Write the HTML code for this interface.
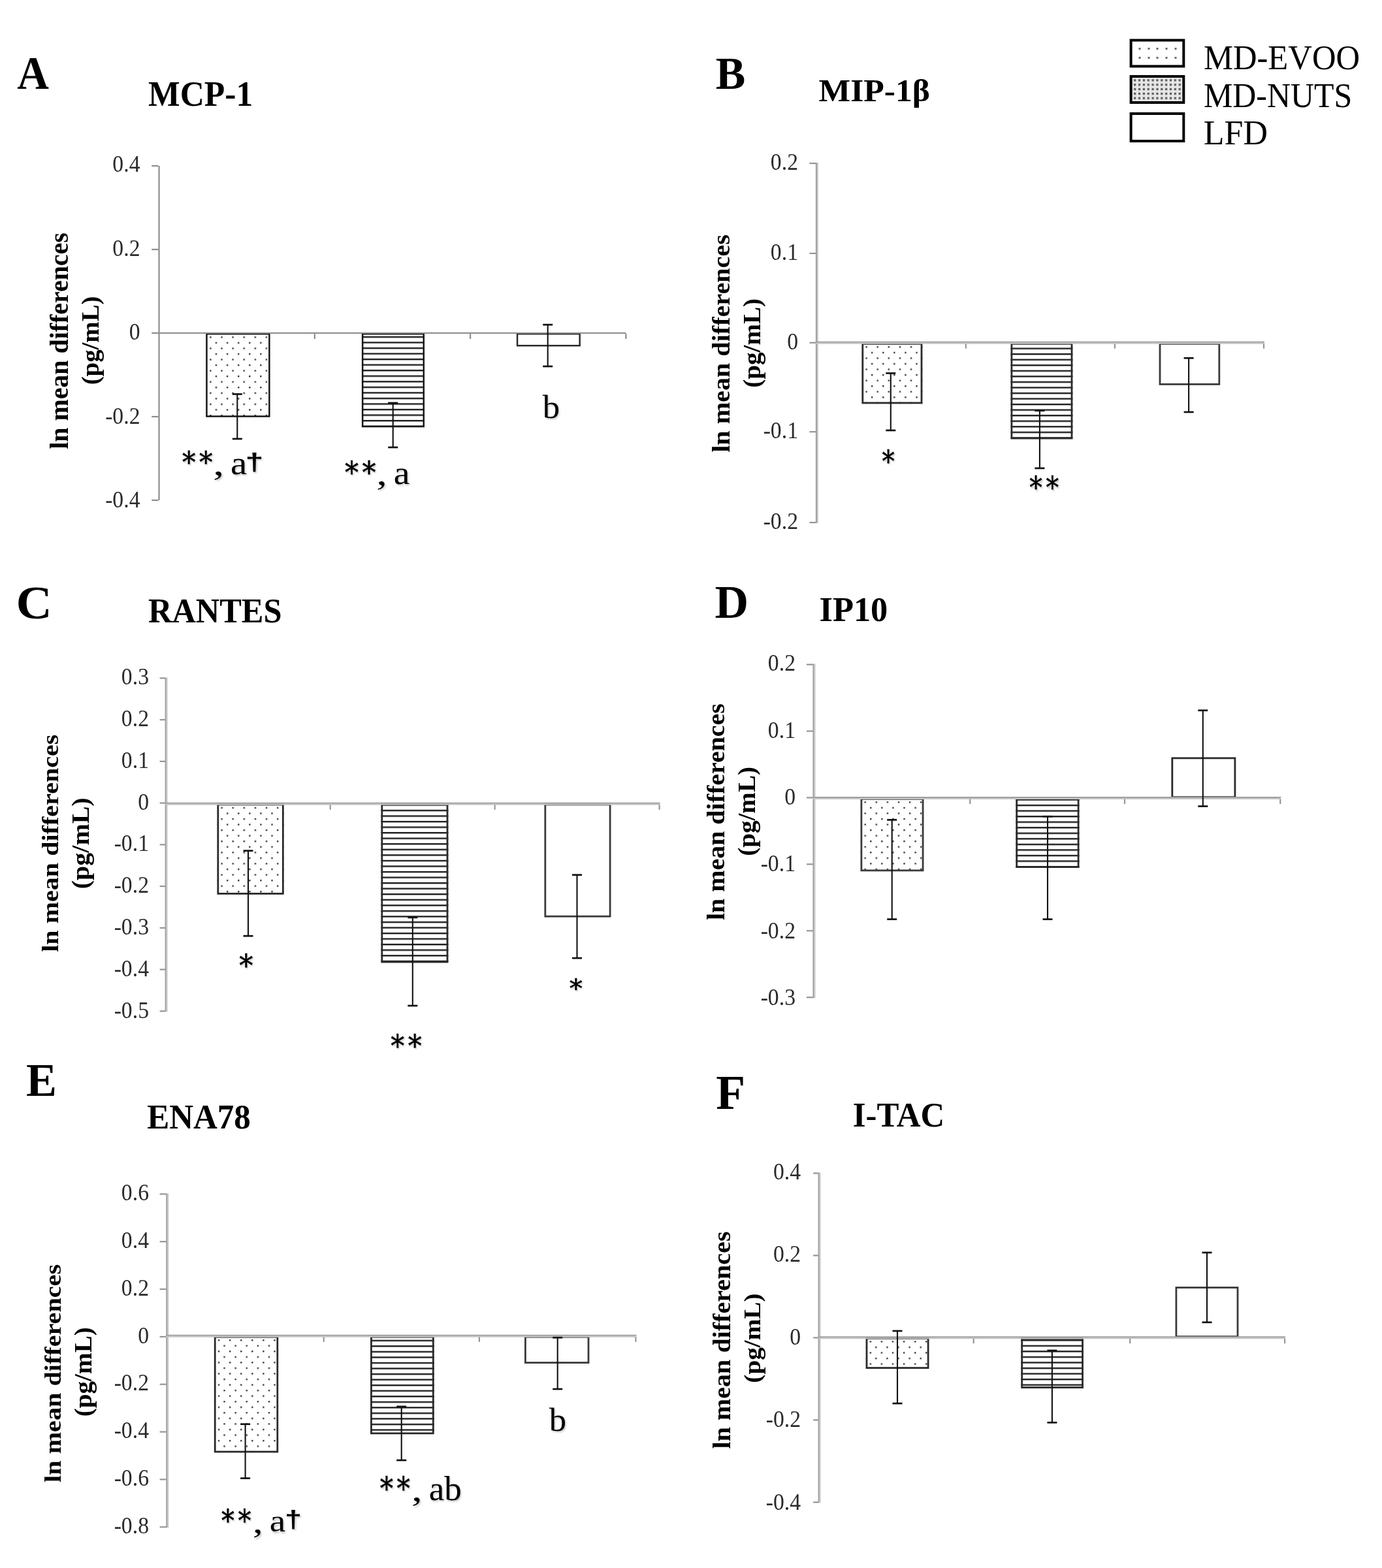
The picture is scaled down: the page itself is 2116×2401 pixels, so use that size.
<!DOCTYPE html>
<html><head><meta charset="utf-8"><title>Figure</title>
<style>html,body{margin:0;padding:0;background:#fff;}svg{display:block;}</style>
</head><body>
<svg xmlns="http://www.w3.org/2000/svg" width="2116" height="2401" viewBox="0 0 2116 2401" font-family='"Liberation Serif", "Times New Roman", serif'>
<defs>
<filter id="shb" x="-20%" y="-20%" width="140%" height="140%"><feGaussianBlur stdDeviation="1.1"/></filter>
<pattern id="lgrid" patternUnits="userSpaceOnUse" x="1736.2" y="121.4" width="6.85" height="6.85"><rect width="6.85" height="6.85" fill="#d8d8d8"/><rect x="4.2" y="0" width="1.2" height="6.85" fill="#f4f4f4"/><rect x="0" y="4.4" width="6.85" height="1.0" fill="#f0f0f0"/><rect x="0" y="0" width="3" height="3" fill="#5a5a5a"/></pattern>
<pattern id="p1" patternUnits="userSpaceOnUse" x="321.20" y="515.20" width="17.1" height="17.1"><rect x="0" y="0" width="2.4" height="2.4" fill="#3a3a3a"/><rect x="8.55" y="8.55" width="2.4" height="2.4" fill="#3a3a3a"/></pattern>
<pattern id="p2" patternUnits="userSpaceOnUse" x="0" y="514.80" width="20" height="8.55"><rect x="0" y="0" width="20" height="2.4" fill="#1e1e1e"/></pattern>
<pattern id="p4" patternUnits="userSpaceOnUse" x="1325.40" y="530.20" width="17.1" height="17.1"><rect x="0" y="0" width="2.4" height="2.4" fill="#3a3a3a"/><rect x="8.55" y="8.55" width="2.4" height="2.4" fill="#3a3a3a"/></pattern>
<pattern id="p5" patternUnits="userSpaceOnUse" x="0" y="532.50" width="20" height="8.55"><rect x="0" y="0" width="20" height="2.4" fill="#1e1e1e"/></pattern>
<pattern id="p7" patternUnits="userSpaceOnUse" x="338.40" y="1235.80" width="17.1" height="17.1"><rect x="0" y="0" width="2.4" height="2.4" fill="#3a3a3a"/><rect x="8.55" y="8.55" width="2.4" height="2.4" fill="#3a3a3a"/></pattern>
<pattern id="p8" patternUnits="userSpaceOnUse" x="0" y="1231.30" width="20" height="8.55"><rect x="0" y="0" width="20" height="2.4" fill="#1e1e1e"/></pattern>
<pattern id="p10" patternUnits="userSpaceOnUse" x="1323.50" y="1227.20" width="17.1" height="17.1"><rect x="0" y="0" width="2.4" height="2.4" fill="#3a3a3a"/><rect x="8.55" y="8.55" width="2.4" height="2.4" fill="#3a3a3a"/></pattern>
<pattern id="p11" patternUnits="userSpaceOnUse" x="0" y="1223.40" width="20" height="8.55"><rect x="0" y="0" width="20" height="2.4" fill="#1e1e1e"/></pattern>
<pattern id="p13" patternUnits="userSpaceOnUse" x="333.80" y="2051.00" width="17.1" height="17.1"><rect x="0" y="0" width="2.4" height="2.4" fill="#3a3a3a"/><rect x="8.55" y="8.55" width="2.4" height="2.4" fill="#3a3a3a"/></pattern>
<pattern id="p14" patternUnits="userSpaceOnUse" x="0" y="2051.60" width="20" height="8.55"><rect x="0" y="0" width="20" height="2.4" fill="#1e1e1e"/></pattern>
<pattern id="p16" patternUnits="userSpaceOnUse" x="1331.60" y="2053.20" width="17.1" height="17.1"><rect x="0" y="0" width="2.4" height="2.4" fill="#3a3a3a"/><rect x="8.55" y="8.55" width="2.4" height="2.4" fill="#3a3a3a"/></pattern>
<pattern id="p17" patternUnits="userSpaceOnUse" x="0" y="2051.10" width="20" height="8.55"><rect x="0" y="0" width="20" height="2.4" fill="#1e1e1e"/></pattern>
</defs>
<rect width="100%" height="100%" fill="#fff"/>
<rect x="1743.5" y="73.1" width="3" height="3" fill="#6a6a6a"/>
<rect x="1757.5" y="73.1" width="3" height="3" fill="#6a6a6a"/>
<rect x="1770.5" y="73.1" width="3" height="3" fill="#6a6a6a"/>
<rect x="1784.5" y="73.1" width="3" height="3" fill="#6a6a6a"/>
<rect x="1798.5" y="73.1" width="3" height="3" fill="#6a6a6a"/>
<rect x="1743.5" y="87.0" width="3" height="3" fill="#6a6a6a"/>
<rect x="1757.5" y="87.0" width="3" height="3" fill="#6a6a6a"/>
<rect x="1770.5" y="87.0" width="3" height="3" fill="#6a6a6a"/>
<rect x="1784.5" y="87.0" width="3" height="3" fill="#6a6a6a"/>
<rect x="1798.5" y="87.0" width="3" height="3" fill="#6a6a6a"/>
<rect x="1731.6" y="61.6" width="80.70000000000005" height="39.9" fill="none" stroke="#000" stroke-width="4"/>
<rect x="1731.6" y="117" width="80.70000000000005" height="40" fill="url(#lgrid)"/>
<rect x="1731.6" y="117.0" width="80.70000000000005" height="40" fill="none" stroke="#000" stroke-width="4"/>
<rect x="1731.6" y="174.0" width="80.70000000000005" height="42" fill="none" stroke="#000" stroke-width="4"/>
<text transform="translate(1842.88,106.21) scale(0.9588,1)" font-size="52.84" font-weight="normal" fill="#000">MD-EVOO</text>
<text transform="translate(1842.90,164.17) scale(0.9404,1)" font-size="53.09" font-weight="normal" fill="#000">MD-NUTS</text>
<text transform="translate(1842.84,221.17) scale(0.9681,1)" font-size="53.69" font-weight="normal" fill="#000">LFD</text>
<text transform="translate(26.33,136.00) scale(0.9461,1)" font-size="71.21" font-weight="bold" fill="#000">A</text>
<text transform="translate(227.10,162.45) scale(0.9357,1)" font-size="55.02" font-weight="bold" fill="#000">MCP-1</text>
<text transform="translate(104.21,687.80) rotate(-90) scale(1.0190,1)" font-size="39.16" font-weight="bold" fill="#000">ln mean differences</text>
<text transform="translate(151.31,589.35) rotate(-90) scale(1.0057,1)" font-size="38.58" font-weight="bold" fill="#000">(pg/mL)</text>
<rect x="315.20" y="510.00" width="98.40" height="128.80" fill="url(#p1)"/>
<rect x="316.45" y="511.25" width="95.90" height="126.30" fill="none" stroke="#161616" stroke-width="2.5"/>
<rect x="553.90" y="510.00" width="96.10" height="144.30" fill="url(#p2)"/>
<rect x="555.15" y="511.25" width="93.60" height="141.80" fill="none" stroke="#161616" stroke-width="2.5"/>
<rect x="792.05" y="511.25" width="95.60" height="18.00" fill="none" stroke="#2a2a2a" stroke-width="2.5"/>
<line x1="243.50" y1="254.00" x2="243.50" y2="766.00" stroke="#8c8c8c" stroke-width="2.2" stroke-linecap="butt"/>
<line x1="232.30" y1="254.00" x2="242.40" y2="254.00" stroke="#8c8c8c" stroke-width="2.2" stroke-linecap="butt"/>
<line x1="232.30" y1="382.00" x2="242.40" y2="382.00" stroke="#8c8c8c" stroke-width="2.2" stroke-linecap="butt"/>
<line x1="232.30" y1="510.00" x2="242.40" y2="510.00" stroke="#8c8c8c" stroke-width="2.2" stroke-linecap="butt"/>
<line x1="232.30" y1="638.00" x2="242.40" y2="638.00" stroke="#8c8c8c" stroke-width="2.2" stroke-linecap="butt"/>
<line x1="232.30" y1="766.00" x2="242.40" y2="766.00" stroke="#8c8c8c" stroke-width="2.2" stroke-linecap="butt"/>
<line x1="242.40" y1="510.00" x2="958.40" y2="510.00" stroke="#8c8c8c" stroke-width="2.2" stroke-linecap="butt"/>
<line x1="481.80" y1="511.10" x2="481.80" y2="519.00" stroke="#8c8c8c" stroke-width="2.2" stroke-linecap="butt"/>
<line x1="720.10" y1="511.10" x2="720.10" y2="519.00" stroke="#8c8c8c" stroke-width="2.2" stroke-linecap="butt"/>
<line x1="958.40" y1="511.10" x2="958.40" y2="519.00" stroke="#8c8c8c" stroke-width="2.2" stroke-linecap="butt"/>
<text transform="translate(214.50,263.00) scale(0.95,1)" text-anchor="end" font-size="35.50" fill="#2a2a2a">0.4</text>
<text transform="translate(214.50,391.60) scale(0.95,1)" text-anchor="end" font-size="35.50" fill="#2a2a2a">0.2</text>
<text transform="translate(214.50,520.20) scale(0.95,1)" text-anchor="end" font-size="35.50" fill="#2a2a2a">0</text>
<text transform="translate(214.50,648.80) scale(0.95,1)" text-anchor="end" font-size="35.50" fill="#2a2a2a">-0.2</text>
<text transform="translate(214.50,777.40) scale(0.95,1)" text-anchor="end" font-size="35.50" fill="#2a2a2a">-0.4</text>
<line x1="363.30" y1="603.50" x2="363.30" y2="672.00" stroke="#111" stroke-width="2.1" stroke-linecap="butt"/>
<line x1="355.80" y1="603.50" x2="370.80" y2="603.50" stroke="#111" stroke-width="2.7" stroke-linecap="butt"/>
<line x1="355.80" y1="672.00" x2="370.80" y2="672.00" stroke="#111" stroke-width="2.7" stroke-linecap="butt"/>
<line x1="601.70" y1="617.00" x2="601.70" y2="685.00" stroke="#111" stroke-width="2.1" stroke-linecap="butt"/>
<line x1="594.20" y1="617.00" x2="609.20" y2="617.00" stroke="#111" stroke-width="2.7" stroke-linecap="butt"/>
<line x1="594.20" y1="685.00" x2="609.20" y2="685.00" stroke="#111" stroke-width="2.7" stroke-linecap="butt"/>
<line x1="838.70" y1="497.20" x2="838.70" y2="561.00" stroke="#111" stroke-width="2.1" stroke-linecap="butt"/>
<line x1="831.20" y1="497.20" x2="846.20" y2="497.20" stroke="#111" stroke-width="2.7" stroke-linecap="butt"/>
<line x1="831.20" y1="561.00" x2="846.20" y2="561.00" stroke="#111" stroke-width="2.7" stroke-linecap="butt"/>
<text transform="translate(1.6,2.2) translate(278.88,724.09) scale(0.9113,1)" font-size="44.84" font-weight="normal" fill="#c8c8c8" filter="url(#shb)" font-family="DejaVu Serif, serif">*</text>
<text transform="translate(278.88,724.09) scale(0.9113,1)" font-size="44.84" font-weight="normal" fill="#000" font-family="DejaVu Serif, serif" stroke="#000" stroke-width="0.5">*</text>
<text transform="translate(1.6,2.2) translate(304.88,724.09) scale(0.9113,1)" font-size="44.84" font-weight="normal" fill="#c8c8c8" filter="url(#shb)" font-family="DejaVu Serif, serif">*</text>
<text transform="translate(304.88,724.09) scale(0.9113,1)" font-size="44.84" font-weight="normal" fill="#000" font-family="DejaVu Serif, serif" stroke="#000" stroke-width="0.5">*</text>
<text transform="translate(1.6,2.2) translate(326.07,726.99) scale(1.3553,1)" font-size="51.65" font-weight="normal" fill="#c8c8c8" filter="url(#shb)">,</text>
<text transform="translate(326.07,726.99) scale(1.3553,1)" font-size="51.65" font-weight="normal" fill="#000">,</text>
<text transform="translate(1.6,2.2) translate(353.01,726.20) scale(1.1298,1)" font-size="50.42" font-weight="normal" fill="#c8c8c8" filter="url(#shb)">a</text>
<text transform="translate(353.01,726.20) scale(1.1298,1)" font-size="50.42" font-weight="normal" fill="#000">a</text>
<text transform="translate(1.6,2.2) translate(375.41,719.98) scale(1.3434,1)" font-size="37.35" font-weight="bold" fill="#c8c8c8" filter="url(#shb)" font-family="Liberation Sans, Arial, sans-serif">†</text>
<text transform="translate(375.41,719.98) scale(1.3434,1)" font-size="37.35" font-weight="bold" fill="#000" font-family="Liberation Sans, Arial, sans-serif">†</text>
<text transform="translate(1.6,2.2) translate(527.97,739.76) scale(0.8958,1)" font-size="46.81" font-weight="normal" fill="#c8c8c8" filter="url(#shb)" font-family="DejaVu Serif, serif">*</text>
<text transform="translate(527.97,739.76) scale(0.8958,1)" font-size="46.81" font-weight="normal" fill="#000" font-family="DejaVu Serif, serif" stroke="#000" stroke-width="0.5">*</text>
<text transform="translate(1.6,2.2) translate(554.47,739.76) scale(0.8958,1)" font-size="46.81" font-weight="normal" fill="#c8c8c8" filter="url(#shb)" font-family="DejaVu Serif, serif">*</text>
<text transform="translate(554.47,739.76) scale(0.8958,1)" font-size="46.81" font-weight="normal" fill="#000" font-family="DejaVu Serif, serif" stroke="#000" stroke-width="0.5">*</text>
<text transform="translate(1.6,2.2) translate(576.20,742.29) scale(1.2907,1)" font-size="51.65" font-weight="normal" fill="#c8c8c8" filter="url(#shb)">,</text>
<text transform="translate(576.20,742.29) scale(1.2907,1)" font-size="51.65" font-weight="normal" fill="#000">,</text>
<text transform="translate(1.6,2.2) translate(602.75,740.80) scale(1.1139,1)" font-size="50.00" font-weight="normal" fill="#c8c8c8" filter="url(#shb)">a</text>
<text transform="translate(602.75,740.80) scale(1.1139,1)" font-size="50.00" font-weight="normal" fill="#000">a</text>
<text transform="translate(1.6,2.2) translate(830.70,640.09) scale(1.0347,1)" font-size="50.78" font-weight="normal" fill="#c8c8c8" filter="url(#shb)">b</text>
<text transform="translate(830.70,640.09) scale(1.0347,1)" font-size="50.78" font-weight="normal" fill="#000">b</text>
<text transform="translate(1095.81,135.82) scale(0.9654,1)" font-size="70.72" font-weight="bold" fill="#000">B</text>
<text transform="translate(1253.50,154.96) scale(1.0409,1)" font-size="49.59" font-weight="bold" fill="#000">MIP-1β</text>
<text transform="translate(1117.22,692.80) rotate(-90) scale(1.0631,1)" font-size="37.76" font-weight="bold" fill="#000">ln mean differences</text>
<text transform="translate(1164.24,593.76) rotate(-90) scale(1.0169,1)" font-size="38.47" font-weight="bold" fill="#000">(pg/mL)</text>
<rect x="1319.40" y="525.00" width="93.00" height="93.40" fill="url(#p4)"/>
<rect x="1320.80" y="526.40" width="90.20" height="90.60" fill="none" stroke="#2a2a2a" stroke-width="2.8"/>
<rect x="1547.50" y="525.00" width="94.90" height="147.50" fill="url(#p5)"/>
<rect x="1548.90" y="526.40" width="92.10" height="144.70" fill="none" stroke="#2a2a2a" stroke-width="2.8"/>
<rect x="1776.00" y="526.40" width="90.80" height="62.00" fill="none" stroke="#3a3a3a" stroke-width="2.8"/>
<line x1="1251.90" y1="249.10" x2="1251.90" y2="801.10" stroke="#cacaca" stroke-width="2.0" stroke-linecap="butt"/>
<line x1="1249.90" y1="249.10" x2="1249.90" y2="801.10" stroke="#9c9c9c" stroke-width="2.0" stroke-linecap="butt"/>
<line x1="1239.40" y1="250.10" x2="1249.20" y2="250.10" stroke="#959595" stroke-width="2.2" stroke-linecap="butt"/>
<line x1="1239.40" y1="388.00" x2="1249.20" y2="388.00" stroke="#959595" stroke-width="2.2" stroke-linecap="butt"/>
<line x1="1239.40" y1="524.80" x2="1249.20" y2="524.80" stroke="#959595" stroke-width="2.2" stroke-linecap="butt"/>
<line x1="1239.40" y1="661.20" x2="1249.20" y2="661.20" stroke="#959595" stroke-width="2.2" stroke-linecap="butt"/>
<line x1="1239.40" y1="800.10" x2="1249.20" y2="800.10" stroke="#959595" stroke-width="2.2" stroke-linecap="butt"/>
<line x1="1248.90" y1="525.70" x2="1936.00" y2="525.70" stroke="#c6c6c6" stroke-width="2.0" stroke-linecap="butt"/>
<line x1="1248.90" y1="523.70" x2="1936.00" y2="523.70" stroke="#a0a0a0" stroke-width="2.0" stroke-linecap="butt"/>
<line x1="1478.80" y1="526.40" x2="1478.80" y2="533.70" stroke="#959595" stroke-width="2.2" stroke-linecap="butt"/>
<line x1="1706.90" y1="526.40" x2="1706.90" y2="533.70" stroke="#959595" stroke-width="2.2" stroke-linecap="butt"/>
<line x1="1935.00" y1="526.40" x2="1935.00" y2="533.70" stroke="#959595" stroke-width="2.2" stroke-linecap="butt"/>
<text transform="translate(1222.00,259.70) scale(0.95,1)" text-anchor="end" font-size="35.50" fill="#2a2a2a">0.2</text>
<text transform="translate(1222.00,397.70) scale(0.95,1)" text-anchor="end" font-size="35.50" fill="#2a2a2a">0.1</text>
<text transform="translate(1222.00,534.60) scale(0.95,1)" text-anchor="end" font-size="35.50" fill="#2a2a2a">0</text>
<text transform="translate(1222.00,671.10) scale(0.95,1)" text-anchor="end" font-size="35.50" fill="#2a2a2a">-0.1</text>
<text transform="translate(1222.00,810.10) scale(0.95,1)" text-anchor="end" font-size="35.50" fill="#2a2a2a">-0.2</text>
<line x1="1363.80" y1="571.50" x2="1363.80" y2="659.00" stroke="#111" stroke-width="2.1" stroke-linecap="butt"/>
<line x1="1356.30" y1="571.50" x2="1371.30" y2="571.50" stroke="#111" stroke-width="2.7" stroke-linecap="butt"/>
<line x1="1356.30" y1="659.00" x2="1371.30" y2="659.00" stroke="#111" stroke-width="2.7" stroke-linecap="butt"/>
<line x1="1591.90" y1="628.80" x2="1591.90" y2="717.00" stroke="#111" stroke-width="2.1" stroke-linecap="butt"/>
<line x1="1584.40" y1="628.80" x2="1599.40" y2="628.80" stroke="#111" stroke-width="2.7" stroke-linecap="butt"/>
<line x1="1584.40" y1="717.00" x2="1599.40" y2="717.00" stroke="#111" stroke-width="2.7" stroke-linecap="butt"/>
<line x1="1820.10" y1="548.30" x2="1820.10" y2="631.00" stroke="#111" stroke-width="2.1" stroke-linecap="butt"/>
<line x1="1812.60" y1="548.30" x2="1827.60" y2="548.30" stroke="#111" stroke-width="2.7" stroke-linecap="butt"/>
<line x1="1812.60" y1="631.00" x2="1827.60" y2="631.00" stroke="#111" stroke-width="2.7" stroke-linecap="butt"/>
<text transform="translate(1.6,2.2) translate(1350.43,722.55) scale(0.8064,1)" font-size="47.47" font-weight="normal" fill="#c8c8c8" filter="url(#shb)" font-family="DejaVu Serif, serif">*</text>
<text transform="translate(1350.43,722.55) scale(0.8064,1)" font-size="47.47" font-weight="normal" fill="#000" font-family="DejaVu Serif, serif" stroke="#000" stroke-width="0.5">*</text>
<text transform="translate(1.6,2.2) translate(1576.32,763.46) scale(0.8361,1)" font-size="46.81" font-weight="normal" fill="#c8c8c8" filter="url(#shb)" font-family="DejaVu Serif, serif">*</text>
<text transform="translate(1576.32,763.46) scale(0.8361,1)" font-size="46.81" font-weight="normal" fill="#000" font-family="DejaVu Serif, serif" stroke="#000" stroke-width="0.5">*</text>
<text transform="translate(1.6,2.2) translate(1601.51,763.46) scale(0.8407,1)" font-size="46.81" font-weight="normal" fill="#c8c8c8" filter="url(#shb)" font-family="DejaVu Serif, serif">*</text>
<text transform="translate(1601.51,763.46) scale(0.8407,1)" font-size="46.81" font-weight="normal" fill="#000" font-family="DejaVu Serif, serif" stroke="#000" stroke-width="0.5">*</text>
<text transform="translate(24.38,946.77) scale(1.0538,1)" font-size="72.57" font-weight="bold" fill="#000">C</text>
<text transform="translate(227.02,953.16) scale(0.9365,1)" font-size="53.83" font-weight="bold" fill="#000">RANTES</text>
<text transform="translate(88.65,1457.80) rotate(-90) scale(1.1461,1)" font-size="34.97" font-weight="bold" fill="#000">ln mean differences</text>
<text transform="translate(135.83,1361.20) rotate(-90) scale(1.0757,1)" font-size="37.16" font-weight="bold" fill="#000">(pg/mL)</text>
<rect x="332.40" y="1230.60" width="102.30" height="139.20" fill="url(#p7)"/>
<rect x="333.80" y="1232.00" width="99.50" height="136.40" fill="none" stroke="#2a2a2a" stroke-width="2.8"/>
<rect x="583.40" y="1230.60" width="103.00" height="243.80" fill="url(#p8)"/>
<rect x="584.80" y="1232.00" width="100.20" height="241.00" fill="none" stroke="#2a2a2a" stroke-width="2.8"/>
<rect x="834.80" y="1232.00" width="99.30" height="171.20" fill="none" stroke="#3a3a3a" stroke-width="2.8"/>
<line x1="255.60" y1="1037.40" x2="255.60" y2="1549.32" stroke="#cacaca" stroke-width="2.0" stroke-linecap="butt"/>
<line x1="253.60" y1="1037.40" x2="253.60" y2="1549.32" stroke="#9c9c9c" stroke-width="2.0" stroke-linecap="butt"/>
<line x1="244.60" y1="1038.40" x2="252.90" y2="1038.40" stroke="#959595" stroke-width="2.2" stroke-linecap="butt"/>
<line x1="244.60" y1="1102.14" x2="252.90" y2="1102.14" stroke="#959595" stroke-width="2.2" stroke-linecap="butt"/>
<line x1="244.60" y1="1165.88" x2="252.90" y2="1165.88" stroke="#959595" stroke-width="2.2" stroke-linecap="butt"/>
<line x1="244.60" y1="1229.62" x2="252.90" y2="1229.62" stroke="#959595" stroke-width="2.2" stroke-linecap="butt"/>
<line x1="244.60" y1="1293.36" x2="252.90" y2="1293.36" stroke="#959595" stroke-width="2.2" stroke-linecap="butt"/>
<line x1="244.60" y1="1357.10" x2="252.90" y2="1357.10" stroke="#959595" stroke-width="2.2" stroke-linecap="butt"/>
<line x1="244.60" y1="1420.84" x2="252.90" y2="1420.84" stroke="#959595" stroke-width="2.2" stroke-linecap="butt"/>
<line x1="244.60" y1="1484.58" x2="252.90" y2="1484.58" stroke="#959595" stroke-width="2.2" stroke-linecap="butt"/>
<line x1="244.60" y1="1548.32" x2="252.90" y2="1548.32" stroke="#959595" stroke-width="2.2" stroke-linecap="butt"/>
<line x1="252.60" y1="1231.80" x2="1010.60" y2="1231.80" stroke="#c6c6c6" stroke-width="2.0" stroke-linecap="butt"/>
<line x1="252.60" y1="1229.80" x2="1010.60" y2="1229.80" stroke="#a0a0a0" stroke-width="2.0" stroke-linecap="butt"/>
<line x1="505.70" y1="1232.50" x2="505.70" y2="1239.80" stroke="#959595" stroke-width="2.2" stroke-linecap="butt"/>
<line x1="757.60" y1="1232.50" x2="757.60" y2="1239.80" stroke="#959595" stroke-width="2.2" stroke-linecap="butt"/>
<line x1="1009.60" y1="1232.50" x2="1009.60" y2="1239.80" stroke="#959595" stroke-width="2.2" stroke-linecap="butt"/>
<text transform="translate(228.00,1048.45) scale(0.95,1)" text-anchor="end" font-size="35.50" fill="#2a2a2a">0.3</text>
<text transform="translate(228.00,1112.21) scale(0.95,1)" text-anchor="end" font-size="35.50" fill="#2a2a2a">0.2</text>
<text transform="translate(228.00,1175.97) scale(0.95,1)" text-anchor="end" font-size="35.50" fill="#2a2a2a">0.1</text>
<text transform="translate(228.00,1239.73) scale(0.95,1)" text-anchor="end" font-size="35.50" fill="#2a2a2a">0</text>
<text transform="translate(228.00,1303.49) scale(0.95,1)" text-anchor="end" font-size="35.50" fill="#2a2a2a">-0.1</text>
<text transform="translate(228.00,1367.25) scale(0.95,1)" text-anchor="end" font-size="35.50" fill="#2a2a2a">-0.2</text>
<text transform="translate(228.00,1431.01) scale(0.95,1)" text-anchor="end" font-size="35.50" fill="#2a2a2a">-0.3</text>
<text transform="translate(228.00,1494.77) scale(0.95,1)" text-anchor="end" font-size="35.50" fill="#2a2a2a">-0.4</text>
<text transform="translate(228.00,1558.52) scale(0.95,1)" text-anchor="end" font-size="35.50" fill="#2a2a2a">-0.5</text>
<line x1="380.00" y1="1302.70" x2="380.00" y2="1433.20" stroke="#111" stroke-width="2.1" stroke-linecap="butt"/>
<line x1="372.50" y1="1302.70" x2="387.50" y2="1302.70" stroke="#111" stroke-width="2.7" stroke-linecap="butt"/>
<line x1="372.50" y1="1433.20" x2="387.50" y2="1433.20" stroke="#111" stroke-width="2.7" stroke-linecap="butt"/>
<line x1="631.80" y1="1404.90" x2="631.80" y2="1540.00" stroke="#111" stroke-width="2.1" stroke-linecap="butt"/>
<line x1="624.30" y1="1404.90" x2="639.30" y2="1404.90" stroke="#111" stroke-width="2.7" stroke-linecap="butt"/>
<line x1="624.30" y1="1540.00" x2="639.30" y2="1540.00" stroke="#111" stroke-width="2.7" stroke-linecap="butt"/>
<line x1="883.50" y1="1339.70" x2="883.50" y2="1467.10" stroke="#111" stroke-width="2.1" stroke-linecap="butt"/>
<line x1="876.00" y1="1339.70" x2="891.00" y2="1339.70" stroke="#111" stroke-width="2.7" stroke-linecap="butt"/>
<line x1="876.00" y1="1467.10" x2="891.00" y2="1467.10" stroke="#111" stroke-width="2.7" stroke-linecap="butt"/>
<text transform="translate(1.6,2.2) translate(366.26,1494.94) scale(0.9220,1)" font-size="45.71" font-weight="normal" fill="#c8c8c8" filter="url(#shb)" font-family="DejaVu Serif, serif">*</text>
<text transform="translate(366.26,1494.94) scale(0.9220,1)" font-size="45.71" font-weight="normal" fill="#000" font-family="DejaVu Serif, serif" stroke="#000" stroke-width="0.5">*</text>
<text transform="translate(1.6,2.2) translate(598.27,1617.52) scale(0.8870,1)" font-size="47.03" font-weight="normal" fill="#c8c8c8" filter="url(#shb)" font-family="DejaVu Serif, serif">*</text>
<text transform="translate(598.27,1617.52) scale(0.8870,1)" font-size="47.03" font-weight="normal" fill="#000" font-family="DejaVu Serif, serif" stroke="#000" stroke-width="0.5">*</text>
<text transform="translate(1.6,2.2) translate(624.67,1617.52) scale(0.8870,1)" font-size="47.03" font-weight="normal" fill="#c8c8c8" filter="url(#shb)" font-family="DejaVu Serif, serif">*</text>
<text transform="translate(624.67,1617.52) scale(0.8870,1)" font-size="47.03" font-weight="normal" fill="#000" font-family="DejaVu Serif, serif" stroke="#000" stroke-width="0.5">*</text>
<text transform="translate(1.6,2.2) translate(872.01,1527.18) scale(1.0117,1)" font-size="38.90" font-weight="normal" fill="#c8c8c8" filter="url(#shb)" font-family="DejaVu Serif, serif">*</text>
<text transform="translate(872.01,1527.18) scale(1.0117,1)" font-size="38.90" font-weight="normal" fill="#000" font-family="DejaVu Serif, serif" stroke="#000" stroke-width="0.5">*</text>
<text transform="translate(1094.45,946.02) scale(0.9890,1)" font-size="72.24" font-weight="bold" fill="#000">D</text>
<text transform="translate(1254.50,950.66) scale(0.9777,1)" font-size="53.63" font-weight="bold" fill="#000">IP10</text>
<text transform="translate(1109.23,1409.00) rotate(-90) scale(1.0814,1)" font-size="36.92" font-weight="bold" fill="#000">ln mean differences</text>
<text transform="translate(1155.53,1310.76) rotate(-90) scale(1.0390,1)" font-size="37.60" font-weight="bold" fill="#000">(pg/mL)</text>
<rect x="1317.50" y="1222.00" width="97.00" height="112.30" fill="url(#p10)"/>
<rect x="1318.90" y="1223.40" width="94.20" height="109.50" fill="none" stroke="#3a3a3a" stroke-width="2.8"/>
<rect x="1555.30" y="1222.00" width="97.20" height="107.00" fill="url(#p11)"/>
<rect x="1556.70" y="1223.40" width="94.40" height="104.20" fill="none" stroke="#2a2a2a" stroke-width="2.8"/>
<rect x="1794.80" y="1160.90" width="96.10" height="59.70" fill="none" stroke="#2a2a2a" stroke-width="2.8"/>
<line x1="1247.50" y1="1016.60" x2="1247.50" y2="1528.20" stroke="#cacaca" stroke-width="2.0" stroke-linecap="butt"/>
<line x1="1245.50" y1="1016.60" x2="1245.50" y2="1528.20" stroke="#9c9c9c" stroke-width="2.0" stroke-linecap="butt"/>
<line x1="1235.00" y1="1017.60" x2="1244.80" y2="1017.60" stroke="#959595" stroke-width="2.2" stroke-linecap="butt"/>
<line x1="1235.00" y1="1119.52" x2="1244.80" y2="1119.52" stroke="#959595" stroke-width="2.2" stroke-linecap="butt"/>
<line x1="1235.00" y1="1221.44" x2="1244.80" y2="1221.44" stroke="#959595" stroke-width="2.2" stroke-linecap="butt"/>
<line x1="1235.00" y1="1323.36" x2="1244.80" y2="1323.36" stroke="#959595" stroke-width="2.2" stroke-linecap="butt"/>
<line x1="1235.00" y1="1425.28" x2="1244.80" y2="1425.28" stroke="#959595" stroke-width="2.2" stroke-linecap="butt"/>
<line x1="1235.00" y1="1527.20" x2="1244.80" y2="1527.20" stroke="#959595" stroke-width="2.2" stroke-linecap="butt"/>
<line x1="1244.50" y1="1223.00" x2="1961.30" y2="1223.00" stroke="#c6c6c6" stroke-width="2.0" stroke-linecap="butt"/>
<line x1="1244.50" y1="1221.00" x2="1961.30" y2="1221.00" stroke="#a0a0a0" stroke-width="2.0" stroke-linecap="butt"/>
<line x1="1485.30" y1="1223.70" x2="1485.30" y2="1231.00" stroke="#959595" stroke-width="2.2" stroke-linecap="butt"/>
<line x1="1722.00" y1="1223.70" x2="1722.00" y2="1231.00" stroke="#959595" stroke-width="2.2" stroke-linecap="butt"/>
<line x1="1960.30" y1="1223.70" x2="1960.30" y2="1231.00" stroke="#959595" stroke-width="2.2" stroke-linecap="butt"/>
<text transform="translate(1218.00,1027.20) scale(0.95,1)" text-anchor="end" font-size="35.50" fill="#2a2a2a">0.2</text>
<text transform="translate(1218.00,1129.56) scale(0.95,1)" text-anchor="end" font-size="35.50" fill="#2a2a2a">0.1</text>
<text transform="translate(1218.00,1231.92) scale(0.95,1)" text-anchor="end" font-size="35.50" fill="#2a2a2a">0</text>
<text transform="translate(1218.00,1334.28) scale(0.95,1)" text-anchor="end" font-size="35.50" fill="#2a2a2a">-0.1</text>
<text transform="translate(1218.00,1436.64) scale(0.95,1)" text-anchor="end" font-size="35.50" fill="#2a2a2a">-0.2</text>
<text transform="translate(1218.00,1539.00) scale(0.95,1)" text-anchor="end" font-size="35.50" fill="#2a2a2a">-0.3</text>
<line x1="1365.70" y1="1255.40" x2="1365.70" y2="1407.60" stroke="#111" stroke-width="2.1" stroke-linecap="butt"/>
<line x1="1358.20" y1="1255.40" x2="1373.20" y2="1255.40" stroke="#111" stroke-width="2.7" stroke-linecap="butt"/>
<line x1="1358.20" y1="1407.60" x2="1373.20" y2="1407.60" stroke="#111" stroke-width="2.7" stroke-linecap="butt"/>
<line x1="1604.00" y1="1250.20" x2="1604.00" y2="1407.60" stroke="#111" stroke-width="2.1" stroke-linecap="butt"/>
<line x1="1596.50" y1="1250.20" x2="1611.50" y2="1250.20" stroke="#111" stroke-width="2.7" stroke-linecap="butt"/>
<line x1="1596.50" y1="1407.60" x2="1611.50" y2="1407.60" stroke="#111" stroke-width="2.7" stroke-linecap="butt"/>
<line x1="1841.80" y1="1087.80" x2="1841.80" y2="1234.60" stroke="#111" stroke-width="2.1" stroke-linecap="butt"/>
<line x1="1834.30" y1="1087.80" x2="1849.30" y2="1087.80" stroke="#111" stroke-width="2.7" stroke-linecap="butt"/>
<line x1="1834.30" y1="1234.60" x2="1849.30" y2="1234.60" stroke="#111" stroke-width="2.7" stroke-linecap="butt"/>
<text transform="translate(39.97,1678.00) scale(0.9693,1)" font-size="72.52" font-weight="bold" fill="#000">E</text>
<text transform="translate(225.21,1727.67) scale(0.9644,1)" font-size="52.89" font-weight="bold" fill="#000">ENA78</text>
<text transform="translate(93.44,2269.90) rotate(-90) scale(1.1223,1)" font-size="35.80" font-weight="bold" fill="#000">ln mean differences</text>
<text transform="translate(140.07,2169.36) rotate(-90) scale(1.0614,1)" font-size="36.94" font-weight="bold" fill="#000">(pg/mL)</text>
<rect x="327.80" y="2045.80" width="98.40" height="178.60" fill="url(#p13)"/>
<rect x="329.20" y="2047.20" width="95.60" height="175.80" fill="none" stroke="#2a2a2a" stroke-width="2.8"/>
<rect x="567.00" y="2045.80" width="97.70" height="150.40" fill="url(#p14)"/>
<rect x="568.40" y="2047.20" width="94.90" height="147.60" fill="none" stroke="#2a2a2a" stroke-width="2.8"/>
<rect x="804.40" y="2047.20" width="96.60" height="39.40" fill="none" stroke="#3a3a3a" stroke-width="2.8"/>
<line x1="257.30" y1="1827.40" x2="257.30" y2="2339.21" stroke="#cacaca" stroke-width="2.0" stroke-linecap="butt"/>
<line x1="255.30" y1="1827.40" x2="255.30" y2="2339.21" stroke="#9c9c9c" stroke-width="2.0" stroke-linecap="butt"/>
<line x1="244.60" y1="1828.40" x2="254.60" y2="1828.40" stroke="#959595" stroke-width="2.2" stroke-linecap="butt"/>
<line x1="244.60" y1="1901.23" x2="254.60" y2="1901.23" stroke="#959595" stroke-width="2.2" stroke-linecap="butt"/>
<line x1="244.60" y1="1974.06" x2="254.60" y2="1974.06" stroke="#959595" stroke-width="2.2" stroke-linecap="butt"/>
<line x1="244.60" y1="2046.89" x2="254.60" y2="2046.89" stroke="#959595" stroke-width="2.2" stroke-linecap="butt"/>
<line x1="244.60" y1="2119.72" x2="254.60" y2="2119.72" stroke="#959595" stroke-width="2.2" stroke-linecap="butt"/>
<line x1="244.60" y1="2192.55" x2="254.60" y2="2192.55" stroke="#959595" stroke-width="2.2" stroke-linecap="butt"/>
<line x1="244.60" y1="2265.38" x2="254.60" y2="2265.38" stroke="#959595" stroke-width="2.2" stroke-linecap="butt"/>
<line x1="244.60" y1="2338.21" x2="254.60" y2="2338.21" stroke="#959595" stroke-width="2.2" stroke-linecap="butt"/>
<line x1="254.30" y1="2046.80" x2="974.40" y2="2046.80" stroke="#c6c6c6" stroke-width="2.0" stroke-linecap="butt"/>
<line x1="254.30" y1="2044.80" x2="974.40" y2="2044.80" stroke="#a0a0a0" stroke-width="2.0" stroke-linecap="butt"/>
<line x1="495.70" y1="2047.50" x2="495.70" y2="2054.80" stroke="#959595" stroke-width="2.2" stroke-linecap="butt"/>
<line x1="733.90" y1="2047.50" x2="733.90" y2="2054.80" stroke="#959595" stroke-width="2.2" stroke-linecap="butt"/>
<line x1="973.40" y1="2047.50" x2="973.40" y2="2054.80" stroke="#959595" stroke-width="2.2" stroke-linecap="butt"/>
<text transform="translate(228.00,1838.30) scale(0.95,1)" text-anchor="end" font-size="35.50" fill="#2a2a2a">0.6</text>
<text transform="translate(228.00,1911.09) scale(0.95,1)" text-anchor="end" font-size="35.50" fill="#2a2a2a">0.4</text>
<text transform="translate(228.00,1983.88) scale(0.95,1)" text-anchor="end" font-size="35.50" fill="#2a2a2a">0.2</text>
<text transform="translate(228.00,2056.67) scale(0.95,1)" text-anchor="end" font-size="35.50" fill="#2a2a2a">0</text>
<text transform="translate(228.00,2129.45) scale(0.95,1)" text-anchor="end" font-size="35.50" fill="#2a2a2a">-0.2</text>
<text transform="translate(228.00,2202.24) scale(0.95,1)" text-anchor="end" font-size="35.50" fill="#2a2a2a">-0.4</text>
<text transform="translate(228.00,2275.03) scale(0.95,1)" text-anchor="end" font-size="35.50" fill="#2a2a2a">-0.6</text>
<text transform="translate(228.00,2347.81) scale(0.95,1)" text-anchor="end" font-size="35.50" fill="#2a2a2a">-0.8</text>
<line x1="375.60" y1="2180.70" x2="375.60" y2="2263.60" stroke="#111" stroke-width="2.1" stroke-linecap="butt"/>
<line x1="368.10" y1="2180.70" x2="383.10" y2="2180.70" stroke="#111" stroke-width="2.7" stroke-linecap="butt"/>
<line x1="368.10" y1="2263.60" x2="383.10" y2="2263.60" stroke="#111" stroke-width="2.7" stroke-linecap="butt"/>
<line x1="614.70" y1="2153.80" x2="614.70" y2="2236.00" stroke="#111" stroke-width="2.1" stroke-linecap="butt"/>
<line x1="607.20" y1="2153.80" x2="622.20" y2="2153.80" stroke="#111" stroke-width="2.7" stroke-linecap="butt"/>
<line x1="607.20" y1="2236.00" x2="622.20" y2="2236.00" stroke="#111" stroke-width="2.7" stroke-linecap="butt"/>
<line x1="853.70" y1="2048.20" x2="853.70" y2="2127.00" stroke="#111" stroke-width="2.1" stroke-linecap="butt"/>
<line x1="846.20" y1="2048.20" x2="861.20" y2="2048.20" stroke="#111" stroke-width="2.7" stroke-linecap="butt"/>
<line x1="846.20" y1="2127.00" x2="861.20" y2="2127.00" stroke="#111" stroke-width="2.7" stroke-linecap="butt"/>
<text transform="translate(1.6,2.2) translate(339.01,2345.02) scale(0.8413,1)" font-size="47.03" font-weight="normal" fill="#c8c8c8" filter="url(#shb)" font-family="DejaVu Serif, serif">*</text>
<text transform="translate(339.01,2345.02) scale(0.8413,1)" font-size="47.03" font-weight="normal" fill="#000" font-family="DejaVu Serif, serif" stroke="#000" stroke-width="0.5">*</text>
<text transform="translate(1.6,2.2) translate(364.40,2345.02) scale(0.8459,1)" font-size="47.03" font-weight="normal" fill="#c8c8c8" filter="url(#shb)" font-family="DejaVu Serif, serif">*</text>
<text transform="translate(364.40,2345.02) scale(0.8459,1)" font-size="47.03" font-weight="normal" fill="#000" font-family="DejaVu Serif, serif" stroke="#000" stroke-width="0.5">*</text>
<text transform="translate(1.6,2.2) translate(386.68,2347.34) scale(1.3429,1)" font-size="48.16" font-weight="normal" fill="#c8c8c8" filter="url(#shb)">,</text>
<text transform="translate(386.68,2347.34) scale(1.3429,1)" font-size="48.16" font-weight="normal" fill="#000">,</text>
<text transform="translate(1.6,2.2) translate(412.77,2345.41) scale(1.1178,1)" font-size="49.38" font-weight="normal" fill="#c8c8c8" filter="url(#shb)">a</text>
<text transform="translate(412.77,2345.41) scale(1.1178,1)" font-size="49.38" font-weight="normal" fill="#000">a</text>
<text transform="translate(1.6,2.2) translate(436.04,2339.08) scale(1.2547,1)" font-size="37.35" font-weight="bold" fill="#c8c8c8" filter="url(#shb)" font-family="Liberation Sans, Arial, sans-serif">†</text>
<text transform="translate(436.04,2339.08) scale(1.2547,1)" font-size="37.35" font-weight="bold" fill="#000" font-family="Liberation Sans, Arial, sans-serif">†</text>
<text transform="translate(1.6,2.2) translate(581.69,2295.67) scale(0.8438,1)" font-size="47.91" font-weight="normal" fill="#c8c8c8" filter="url(#shb)" font-family="DejaVu Serif, serif">*</text>
<text transform="translate(581.69,2295.67) scale(0.8438,1)" font-size="47.91" font-weight="normal" fill="#000" font-family="DejaVu Serif, serif" stroke="#000" stroke-width="0.5">*</text>
<text transform="translate(1.6,2.2) translate(607.49,2295.67) scale(0.8483,1)" font-size="47.91" font-weight="normal" fill="#c8c8c8" filter="url(#shb)" font-family="DejaVu Serif, serif">*</text>
<text transform="translate(607.49,2295.67) scale(0.8483,1)" font-size="47.91" font-weight="normal" fill="#000" font-family="DejaVu Serif, serif" stroke="#000" stroke-width="0.5">*</text>
<text transform="translate(1.6,2.2) translate(629.98,2297.65) scale(1.3135,1)" font-size="51.26" font-weight="normal" fill="#c8c8c8" filter="url(#shb)">,</text>
<text transform="translate(629.98,2297.65) scale(1.3135,1)" font-size="51.26" font-weight="normal" fill="#000">,</text>
<text transform="translate(1.6,2.2) translate(656.75,2296.88) scale(1.0117,1)" font-size="52.34" font-weight="normal" fill="#c8c8c8" filter="url(#shb)">ab</text>
<text transform="translate(656.75,2296.88) scale(1.0117,1)" font-size="52.34" font-weight="normal" fill="#000">ab</text>
<text transform="translate(1.6,2.2) translate(840.70,2191.10) scale(1.0464,1)" font-size="50.21" font-weight="normal" fill="#c8c8c8" filter="url(#shb)">b</text>
<text transform="translate(840.70,2191.10) scale(1.0464,1)" font-size="50.21" font-weight="normal" fill="#000">b</text>
<text transform="translate(1096.22,1697.50) scale(1.0015,1)" font-size="73.28" font-weight="bold" fill="#000">F</text>
<text transform="translate(1305.75,1725.16) scale(0.9457,1)" font-size="53.83" font-weight="bold" fill="#000">I-TAC</text>
<text transform="translate(1117.63,2218.50) rotate(-90) scale(1.0728,1)" font-size="37.34" font-weight="bold" fill="#000">ln mean differences</text>
<text transform="translate(1163.77,2117.67) rotate(-90) scale(1.0749,1)" font-size="36.50" font-weight="bold" fill="#000">(pg/mL)</text>
<rect x="1325.60" y="2048.00" width="96.90" height="48.00" fill="url(#p16)"/>
<rect x="1327.00" y="2049.40" width="94.10" height="45.20" fill="none" stroke="#2a2a2a" stroke-width="2.8"/>
<rect x="1563.30" y="2048.00" width="95.60" height="78.00" fill="url(#p17)"/>
<rect x="1564.70" y="2049.40" width="92.80" height="75.20" fill="none" stroke="#2a2a2a" stroke-width="2.8"/>
<rect x="1800.90" y="1971.60" width="94.10" height="75.00" fill="none" stroke="#3a3a3a" stroke-width="2.8"/>
<line x1="1255.60" y1="1795.50" x2="1255.60" y2="2301.30" stroke="#cacaca" stroke-width="2.0" stroke-linecap="butt"/>
<line x1="1253.60" y1="1795.50" x2="1253.60" y2="2301.30" stroke="#9c9c9c" stroke-width="2.0" stroke-linecap="butt"/>
<line x1="1245.10" y1="1796.50" x2="1252.90" y2="1796.50" stroke="#959595" stroke-width="2.2" stroke-linecap="butt"/>
<line x1="1245.10" y1="1922.45" x2="1252.90" y2="1922.45" stroke="#959595" stroke-width="2.2" stroke-linecap="butt"/>
<line x1="1245.10" y1="2048.40" x2="1252.90" y2="2048.40" stroke="#959595" stroke-width="2.2" stroke-linecap="butt"/>
<line x1="1245.10" y1="2174.35" x2="1252.90" y2="2174.35" stroke="#959595" stroke-width="2.2" stroke-linecap="butt"/>
<line x1="1245.10" y1="2300.30" x2="1252.90" y2="2300.30" stroke="#959595" stroke-width="2.2" stroke-linecap="butt"/>
<line x1="1252.60" y1="2049.20" x2="1968.10" y2="2049.20" stroke="#c6c6c6" stroke-width="2.0" stroke-linecap="butt"/>
<line x1="1252.60" y1="2047.20" x2="1968.10" y2="2047.20" stroke="#a0a0a0" stroke-width="2.0" stroke-linecap="butt"/>
<line x1="1490.70" y1="2049.90" x2="1490.70" y2="2057.20" stroke="#959595" stroke-width="2.2" stroke-linecap="butt"/>
<line x1="1730.20" y1="2049.90" x2="1730.20" y2="2057.20" stroke="#959595" stroke-width="2.2" stroke-linecap="butt"/>
<line x1="1967.10" y1="2049.90" x2="1967.10" y2="2057.20" stroke="#959595" stroke-width="2.2" stroke-linecap="butt"/>
<text transform="translate(1226.10,1805.90) scale(0.95,1)" text-anchor="end" font-size="35.50" fill="#2a2a2a">0.4</text>
<text transform="translate(1226.10,1932.33) scale(0.95,1)" text-anchor="end" font-size="35.50" fill="#2a2a2a">0.2</text>
<text transform="translate(1226.10,2058.75) scale(0.95,1)" text-anchor="end" font-size="35.50" fill="#2a2a2a">0</text>
<text transform="translate(1226.10,2185.18) scale(0.95,1)" text-anchor="end" font-size="35.50" fill="#2a2a2a">-0.2</text>
<text transform="translate(1226.10,2311.60) scale(0.95,1)" text-anchor="end" font-size="35.50" fill="#2a2a2a">-0.4</text>
<line x1="1374.00" y1="2038.00" x2="1374.00" y2="2149.00" stroke="#111" stroke-width="2.1" stroke-linecap="butt"/>
<line x1="1366.50" y1="2038.00" x2="1381.50" y2="2038.00" stroke="#111" stroke-width="2.7" stroke-linecap="butt"/>
<line x1="1366.50" y1="2149.00" x2="1381.50" y2="2149.00" stroke="#111" stroke-width="2.7" stroke-linecap="butt"/>
<line x1="1610.90" y1="2068.00" x2="1610.90" y2="2178.30" stroke="#111" stroke-width="2.1" stroke-linecap="butt"/>
<line x1="1603.40" y1="2068.00" x2="1618.40" y2="2068.00" stroke="#111" stroke-width="2.7" stroke-linecap="butt"/>
<line x1="1603.40" y1="2178.30" x2="1618.40" y2="2178.30" stroke="#111" stroke-width="2.7" stroke-linecap="butt"/>
<line x1="1848.00" y1="1918.00" x2="1848.00" y2="2024.80" stroke="#111" stroke-width="2.1" stroke-linecap="butt"/>
<line x1="1840.50" y1="1918.00" x2="1855.50" y2="1918.00" stroke="#111" stroke-width="2.7" stroke-linecap="butt"/>
<line x1="1840.50" y1="2024.80" x2="1855.50" y2="2024.80" stroke="#111" stroke-width="2.7" stroke-linecap="butt"/>
</svg>
</body></html>
